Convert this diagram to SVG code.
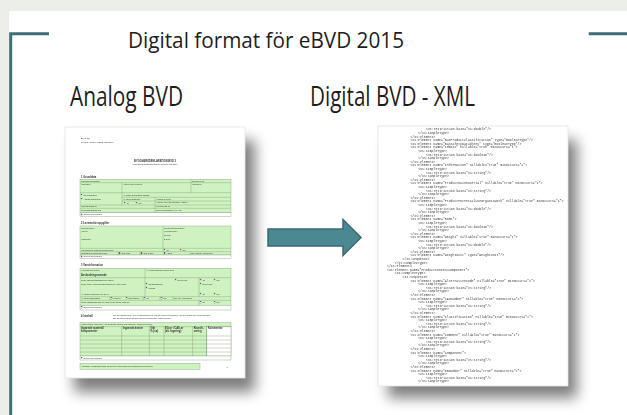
<svg xmlns="http://www.w3.org/2000/svg" width="627" height="415" viewBox="0 0 627 415">
<style>
.ttl{font-family:"Open Sans","Noto Sans","Liberation Sans",sans-serif;font-weight:400;fill:#1e1e1e}
.x{font-family:"Liberation Mono",monospace;font-size:3.2px;fill:#3a3a3a}
.f{font-family:"Liberation Sans",sans-serif;font-size:2.1px;fill:#333}
.fb{font-family:"Liberation Sans",sans-serif;font-size:2.6px;font-weight:bold;fill:#333}
.g{fill:#cff3c0;stroke:#6f8f66;stroke-width:0.35}
.w{fill:#fff;stroke:#6f8f66;stroke-width:0.35}
.ln{stroke:#6f8f66;stroke-width:0.35;fill:none}
.cb{fill:#fff;stroke:#555;stroke-width:0.25}
.frame{fill:none;stroke:#3e6d74;stroke-width:3}
</style>
<defs>
<filter id="sh" x="-30%" y="-30%" width="160%" height="160%"><feGaussianBlur stdDeviation="7"/></filter>
<filter id="soft" x="-5%" y="-5%" width="110%" height="110%"><feGaussianBlur stdDeviation="0.3"/></filter>
</defs>
<rect width="627" height="415" fill="#eceee9"/>
<rect x="9" y="11" width="618" height="404" fill="#ffffff"/>
<g id="frame">
<path class="frame" d="M49,33.7 H10.7 V415"/>
<path class="frame" d="M588.7,33.7 H627"/>
</g>
<g id="title"><text class="ttl" x="128" y="48" font-size="21.5" textLength="276" lengthAdjust="spacingAndGlyphs">Digital format för eBVD 2015</text></g>
<g id="label-analog"><text class="ttl" x="70" y="106" font-size="27" textLength="113" lengthAdjust="spacingAndGlyphs">Analog BVD</text></g>
<g id="label-digital"><text class="ttl" x="310" y="106" font-size="27" textLength="165" lengthAdjust="spacingAndGlyphs">Digital BVD - XML</text></g>

<g id="doc-analog">
<rect x="74" y="140" width="181" height="252" fill="#000" opacity="0.5" filter="url(#sh)"/>
<rect x="65" y="127" width="180" height="251" fill="#fff" stroke="#e3e3e3" stroke-width="0.8"/>
<g filter="url(#soft)">
<text class="f" x="81" y="139">BLAD NR</text>
<text class="f" x="81" y="142.5">UPPDRAGSGIVARENS LOGOTYP</text>
<text class="fb" x="155" y="162" text-anchor="middle" font-size="3">BYGGVARUDEKLARATION BVD 3</text>
<text class="f" x="155" y="165.3" text-anchor="middle">enligt Byggvarubedömningens riktlinjer maj 2007</text>
<text class="fb" x="81" y="177.5">1   Grunddata</text>
<rect class="g" x="80" y="179.3" width="151" height="33.4"/>
<rect class="w" x="80" y="212.7" width="151" height="4"/>
<path class="ln" d="M80,182.7H231 M80,192.7H231 M122,197.3H231 M122,201H231 M80,205H231 M80,208.3H231 M191,179.3V192.7 M122,182.7V205 M155,197.3V205 M155,205V212.7"/>
<text class="f" x="81" y="181.6">Produktidentifikation</text><text class="f" x="192" y="181.6">Dokument ID</text>
<text class="f" x="81" y="184.6">Varunamn</text><text class="f" x="123" y="184.6">Artikel nr/ID begrepp</text><text class="f" x="192" y="184.6">Varugrupp</text>
<rect class="cb" x="81" y="194.2" width="1.6" height="1.6"/><text class="f" x="83.5" y="195.7">Ny deklaration</text>
<rect class="cb" x="81" y="198.2" width="1.6" height="1.6"/><text class="f" x="83.5" y="199.7">Ändrad deklaration</text>
<text class="f" x="123" y="195.6">Är denna deklaration ändrad:</text>
<text class="f" x="123" y="199.5">Är varan förändrad</text><text class="f" x="156" y="199.5">Ändringen avser</text>
<rect class="cb" x="124" y="202.2" width="1.6" height="1.6"/><text class="f" x="126.5" y="203.6">Ja</text>
<rect class="cb" x="136" y="202.2" width="1.6" height="1.6"/><text class="f" x="138.5" y="203.6">Nej</text>
<text class="f" x="156" y="203.4">Ändrad vara, identifikation, utgåva</text>
<text class="f" x="81" y="207.2">Sammanställd av</text><text class="f" x="156" y="207.2">Kontrollerad av</text>
<text class="f" x="81" y="211">Upprättad/ändrad den</text><text class="f" x="156" y="211">Övrig identifikation, t.ex. lag</text>
<rect class="cb" x="81" y="213.9" width="1.6" height="1.6"/><text class="f" x="83.5" y="215.4">Övriga upplysningar</text>

<text class="fb" x="81" y="224">2   Leverantörsuppgifter</text>
<rect class="g" x="80" y="226" width="151" height="29"/>
<rect class="w" x="80" y="255" width="151" height="3.3"/>
<path class="ln" d="M80,248.3H231 M80,251.7H231 M163,226V251.7 M118,251.7V255 M140,251.7V255 M190,251.7V255"/>
<text class="f" x="81" y="228.6">Företagsnamn</text><text class="f" x="164" y="228.6">Organisationsnummer</text>
<text class="f" x="81" y="232.4">Adress</text><text class="f" x="164" y="232.4">Kontaktperson</text>
<text class="f" x="164" y="236">Telefon</text>
<text class="f" x="81" y="240">Webbplats</text><text class="f" x="164" y="239.6">E-post</text>
<text class="f" x="81" y="250.5">Har företaget miljöledningssystem?</text>
<rect class="cb" x="164" y="249.1" width="1.6" height="1.6"/><text class="f" x="166.5" y="250.5">Ja</text>
<rect class="cb" x="180" y="249.1" width="1.6" height="1.6"/><text class="f" x="182.5" y="250.5">Nej</text>
<text class="f" x="81" y="253.9">Företaget är certifierat enligt</text>
<rect class="cb" x="119" y="252.5" width="1.6" height="1.6"/><text class="f" x="121.5" y="253.9">ISO 9001</text>
<rect class="cb" x="141" y="252.5" width="1.6" height="1.6"/><text class="f" x="143.5" y="253.9">ISO 14001</text>
<rect class="cb" x="164" y="252.5" width="1.6" height="1.6"/><text class="f" x="166.5" y="253.9">Annat</text>
<text class="f" x="191" y="253.9">Om "annat", specificera</text>
<rect class="cb" x="81" y="255.9" width="1.5" height="1.5"/><text class="f" x="83.5" y="257.3">Övriga upplysningar</text>

<text class="fb" x="81" y="266">3   Varuinformation</text>
<rect class="g" x="80" y="268.3" width="151" height="37"/>
<rect class="w" x="80" y="305.3" width="151" height="4.7"/>
<path class="ln" d="M80,277.7H231 M80,296.7H231 M80,300.3H231 M145,268.3V277.7 M145,277.7V296.7 M199,277.7V296.7 M110,296.7V300.3 M143,296.7V300.3 M160,296.7V300.3 M173,296.7V300.3 M199,300.3V305.3"/>
<text class="f" x="81" y="271">Användning/funktion</text><text class="f" x="146" y="271">Är varan hanterbar enligt avtal</text>
<text class="fb" x="81" y="275.5" font-size="2.1">Användningsområde</text>
<text class="f" x="81" y="280.5">Finns säkerhetsdatablad för varan?</text>
<rect class="cb" x="175" y="279" width="1.6" height="1.6"/><text class="f" x="177.5" y="280.5">Ej relevant</text>
<rect class="cb" x="200" y="279" width="1.6" height="1.6"/><text class="f" x="202.5" y="280.5">Ja</text>
<rect class="cb" x="214" y="279" width="1.6" height="1.6"/><text class="f" x="216.5" y="280.5">Nej</text>
<text class="f" x="81" y="284.5">Ingår varan i varuinformationssystem, ange vilket</text>
<rect class="cb" x="146" y="283" width="1.6" height="1.6"/><text class="f" x="148.5" y="284.5">Grundläggande</text>
<rect class="cb" x="146" y="287" width="1.6" height="1.6"/><text class="f" x="148.5" y="288.5">Utökad</text>
<rect class="cb" x="200" y="283" width="1.6" height="1.6"/><text class="f" x="202.5" y="284.5">Ej relevant</text>
<text class="f" x="81" y="294.5">Är varan registrerad i BASTA?</text>
<rect class="cb" x="200" y="293" width="1.6" height="1.6"/><text class="f" x="202.5" y="294.5">Ja</text>
<rect class="cb" x="214" y="293" width="1.6" height="1.6"/><text class="f" x="216.5" y="294.5">Nej</text>
<text class="f" x="81" y="299.1">Är varan miljömärkt?</text>
<rect class="cb" x="111" y="297.7" width="1.6" height="1.6"/><text class="f" x="113.5" y="299.1">Svanen</text>
<rect class="cb" x="126" y="297.7" width="1.6" height="1.6"/><text class="f" x="128.5" y="299.1">Bra miljöval</text>
<rect class="cb" x="144" y="297.7" width="1.6" height="1.6"/><text class="f" x="146.5" y="299.1">Ja</text>
<rect class="cb" x="161" y="297.7" width="1.6" height="1.6"/><text class="f" x="163.5" y="299.1">Nej</text>
<text class="f" x="174" y="299.1">Om "ja", specificera</text>
<text class="f" x="81" y="303">Finns miljöbedömning av varan enligt annat system?</text>
<rect class="cb" x="200" y="301.6" width="1.6" height="1.6"/><text class="f" x="202.5" y="303">Ja</text>
<rect class="cb" x="214" y="301.6" width="1.6" height="1.6"/><text class="f" x="216.5" y="303">Nej</text>
<rect class="cb" x="81" y="306.8" width="1.5" height="1.5"/><text class="f" x="83.5" y="308.2">Övriga upplysningar</text>

<text class="fb" x="81" y="317">4   Innehåll</text>
<text class="f" x="113" y="316" font-size="1.8">Om det lagstiftnings- eller avtalsmässigt inte går att redovisa innehållet, ska det anges hur varans innehåll</text>
<text class="f" x="113" y="319.4" font-size="1.8">kan bedömas samt grunden för den begränsade redovisningen.</text>
<rect class="g" x="80" y="322.7" width="151" height="33.3"/>
<rect class="w" x="206.7" y="326.7" width="24.3" height="29.3"/>
<rect class="w" x="80" y="356" width="151" height="4"/>
<path class="ln" d="M80,326.7H231 M80,336H231 M80,340H231 M80,344H231 M80,348H231 M80,352H231 M121.7,326.7V356 M149.3,326.7V356 M164,326.7V356 M192.7,326.7V356 M206.7,326.7V356"/>
<text class="f" x="81" y="325.3">Varans totala vikt/enhet. Alla ingående ämnen och material i varan ska anges.</text>
<text class="fb" x="81" y="329.2" font-size="2.1">Ingående material/</text><text class="fb" x="81" y="331.8" font-size="2.1">komponenter</text>
<text class="fb" x="122.7" y="329.2" font-size="2.1">Ingående ämnen</text>
<text class="fb" x="150.3" y="329.2" font-size="2.1">Vikt</text><text class="fb" x="150.3" y="331.8" font-size="2.1">% (ca)</text>
<text class="fb" x="165" y="329.2" font-size="2.1">EG-nr / CAS-nr</text><text class="fb" x="165" y="331.8" font-size="2.1">(alt. legering)</text>
<text class="fb" x="193.7" y="329.2" font-size="2.1">Klassifi-</text><text class="fb" x="193.7" y="331.8" font-size="2.1">cering</text>
<text class="fb" x="208" y="329.2" font-size="2.1">Kommentar</text>
<rect class="cb" x="81" y="357.3" width="1.5" height="1.5"/><text class="f" x="83.5" y="358.7">Övriga upplysningar</text>

<rect class="g" x="80" y="363.3" width="120" height="6"/>
<text class="f" x="82" y="367.1">Uppgifter i grönmarkerade fält är krav enligt Byggvarubedömningens riktlinjer</text>
<text class="f" x="226.5" y="367.5">1</text>
</g>
</g>

<g id="doc-xml">
<rect x="388" y="140" width="189" height="258" fill="#000" opacity="0.5" filter="url(#sh)"/>
<rect x="378" y="126" width="190" height="260" fill="#fff" stroke="#e3e3e3" stroke-width="0.8"/>
<g filter="url(#soft)">
<text class="x" x="426" y="130.4">&lt;xs:restriction base="xs:double"/&gt;</text>
<text class="x" x="418.2" y="134">&lt;/xs:simpleType&gt;</text>
<text class="x" x="410.4" y="137.6">&lt;/xs:element&gt;</text>
<text class="x" x="410.4" y="141.2">&lt;xs:element name="BasProductClassification" type="BooleanType"/&gt;</text>
<text class="x" x="410.4" y="144.8">&lt;xs:element name="BasSafetyDatasheet" type="BooleanType"/&gt;</text>
<text class="x" x="410.4" y="148.4">&lt;xs:element name="IdData" nillable="true" minOccurs="1"&gt;</text>
<text class="x" x="418.2" y="152">&lt;xs:simpleType&gt;</text>
<text class="x" x="426" y="155.6">&lt;xs:restriction base="xs:boolean"/&gt;</text>
<text class="x" x="418.2" y="159.2">&lt;/xs:simpleType&gt;</text>
<text class="x" x="410.4" y="162.8">&lt;/xs:element&gt;</text>
<text class="x" x="410.4" y="166.4">&lt;xs:element name="Information" nillable="true" minOccurs="1"&gt;</text>
<text class="x" x="418.2" y="170">&lt;xs:simpleType&gt;</text>
<text class="x" x="426" y="173.6">&lt;xs:restriction base="xs:string"/&gt;</text>
<text class="x" x="418.2" y="177.2">&lt;/xs:simpleType&gt;</text>
<text class="x" x="410.4" y="180.8">&lt;/xs:element&gt;</text>
<text class="x" x="410.4" y="184.4">&lt;xs:element name="ProductMainMaterial" nillable="true" minOccurs="1"&gt;</text>
<text class="x" x="418.2" y="188">&lt;xs:simpleType&gt;</text>
<text class="x" x="426" y="191.6">&lt;xs:restriction base="xs:string"/&gt;</text>
<text class="x" x="418.2" y="195.2">&lt;/xs:simpleType&gt;</text>
<text class="x" x="410.4" y="198.8">&lt;/xs:element&gt;</text>
<text class="x" x="410.4" y="202.4">&lt;xs:element name="ProductPotentialUseOrganicWork" nillable="true" minOccurs="1"&gt;</text>
<text class="x" x="418.2" y="206">&lt;xs:simpleType&gt;</text>
<text class="x" x="426" y="209.6">&lt;xs:restriction base="xs:double"/&gt;</text>
<text class="x" x="418.2" y="213.2">&lt;/xs:simpleType&gt;</text>
<text class="x" x="410.4" y="216.8">&lt;/xs:element&gt;</text>
<text class="x" x="410.4" y="220.4">&lt;xs:element name="ROHS"&gt;</text>
<text class="x" x="418.2" y="224">&lt;xs:simpleType&gt;</text>
<text class="x" x="426" y="227.6">&lt;xs:restriction base="xs:boolean"/&gt;</text>
<text class="x" x="418.2" y="231.2">&lt;/xs:simpleType&gt;</text>
<text class="x" x="410.4" y="234.8">&lt;/xs:element&gt;</text>
<text class="x" x="410.4" y="238.4">&lt;xs:element name="Weight" nillable="true" minOccurs="1"&gt;</text>
<text class="x" x="418.2" y="242">&lt;xs:simpleType&gt;</text>
<text class="x" x="426" y="245.6">&lt;xs:restriction base="xs:double"/&gt;</text>
<text class="x" x="418.2" y="249.2">&lt;/xs:simpleType&gt;</text>
<text class="x" x="410.4" y="252.8">&lt;/xs:element&gt;</text>
<text class="x" x="410.4" y="256.4">&lt;xs:element name="WeightUnit" type="WeightUnit"/&gt;</text>
<text class="x" x="402.6" y="260">&lt;/xs:sequence&gt;</text>
<text class="x" x="394.8" y="263.6">&lt;/xs:complexType&gt;</text>
<text class="x" x="387" y="267.2">&lt;/xs:element&gt;</text>
<text class="x" x="387" y="270.8">&lt;xs:element name="ProductContentComponent"&gt;</text>
<text class="x" x="394.8" y="274.4">&lt;xs:complexType&gt;</text>
<text class="x" x="402.6" y="278">&lt;xs:sequence&gt;</text>
<text class="x" x="410.4" y="281.6">&lt;xs:element name="AlternativeCode" nillable="true" minOccurs="1"&gt;</text>
<text class="x" x="418.2" y="285.2">&lt;xs:simpleType&gt;</text>
<text class="x" x="426" y="288.8">&lt;xs:restriction base="xs:string"/&gt;</text>
<text class="x" x="418.2" y="292.4">&lt;/xs:simpleType&gt;</text>
<text class="x" x="410.4" y="296">&lt;/xs:element&gt;</text>
<text class="x" x="410.4" y="299.6">&lt;xs:element name="CASNumber" nillable="true" minOccurs="1"&gt;</text>
<text class="x" x="418.2" y="303.2">&lt;xs:simpleType&gt;</text>
<text class="x" x="426" y="306.8">&lt;xs:restriction base="xs:string"/&gt;</text>
<text class="x" x="418.2" y="310.4">&lt;/xs:simpleType&gt;</text>
<text class="x" x="410.4" y="314">&lt;/xs:element&gt;</text>
<text class="x" x="410.4" y="317.6">&lt;xs:element name="Classification" nillable="true" minOccurs="1"&gt;</text>
<text class="x" x="418.2" y="321.2">&lt;xs:simpleType&gt;</text>
<text class="x" x="426" y="324.8">&lt;xs:restriction base="xs:string"/&gt;</text>
<text class="x" x="418.2" y="328.4">&lt;/xs:simpleType&gt;</text>
<text class="x" x="410.4" y="332">&lt;/xs:element&gt;</text>
<text class="x" x="410.4" y="335.6">&lt;xs:element name="Comment" nillable="true" minOccurs="1"&gt;</text>
<text class="x" x="418.2" y="339.2">&lt;xs:simpleType&gt;</text>
<text class="x" x="426" y="342.8">&lt;xs:restriction base="xs:string"/&gt;</text>
<text class="x" x="418.2" y="346.4">&lt;/xs:simpleType&gt;</text>
<text class="x" x="410.4" y="350">&lt;/xs:element&gt;</text>
<text class="x" x="410.4" y="353.6">&lt;xs:element name="Component"&gt;</text>
<text class="x" x="418.2" y="357.2">&lt;xs:simpleType&gt;</text>
<text class="x" x="426" y="360.8">&lt;xs:restriction base="xs:string"/&gt;</text>
<text class="x" x="418.2" y="364.4">&lt;/xs:simpleType&gt;</text>
<text class="x" x="410.4" y="368">&lt;/xs:element&gt;</text>
<text class="x" x="410.4" y="371.6">&lt;xs:element name="EGNumber" nillable="true" minOccurs="1"&gt;</text>
<text class="x" x="418.2" y="375.2">&lt;xs:simpleType&gt;</text>
<text class="x" x="426" y="378.8">&lt;xs:restriction base="xs:string"/&gt;</text>
<text class="x" x="418.2" y="382.4">&lt;/xs:simpleType&gt;</text>
</g>
</g>

<g id="connectors">
<polygon points="268,229 343,229 343,219.5 361,237.5 343,255.5 343,246 268,246" fill="#4b8891" stroke="#3a6a71" stroke-width="1.5" stroke-linejoin="miter"/>
</g>
</svg>
